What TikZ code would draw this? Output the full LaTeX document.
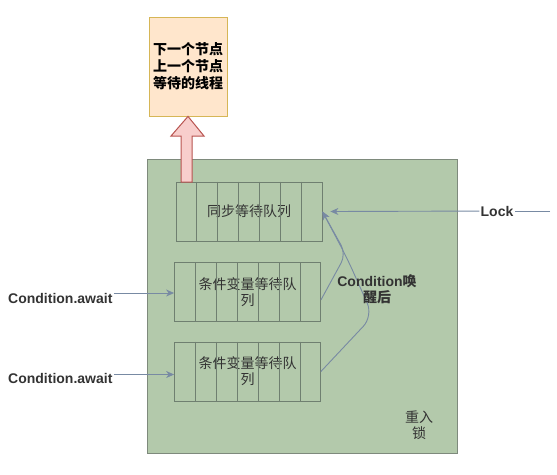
\documentclass[tikz,border=0pt]{standalone}
\usepackage{fontspec}
\setmainfont{Liberation Sans}
\newfontfamily\cjk{Noto Sans CJK SC}
\usetikzlibrary{arrows.meta,positioning,calc}
\definecolor{lockgreen}{HTML}{B3C9AB}
\definecolor{lockedge}{HTML}{7E8A7C}
\definecolor{cellgray}{HTML}{6F7F70}
\definecolor{slate}{HTML}{788AA3}
\definecolor{peach}{HTML}{FFE6CC}
\definecolor{peachedge}{HTML}{D6B656}
\definecolor{rosefill}{HTML}{F8CECC}
\definecolor{roseedge}{HTML}{B85450}
\definecolor{inkgray}{HTML}{333333}

\begin{document}
\begin{tikzpicture}[
    x=1pt, y=-1pt,
    lockbox/.style={draw=lockedge, fill=lockgreen, line width=0.9pt,
                    minimum width=310pt, minimum height=294pt, inner sep=0pt},
    queue/.style={draw=cellgray, line width=0.8pt, minimum width=146pt,
                  minimum height=59pt, inner sep=0pt, align=center,
                  font=\fontsize{14}{16}\selectfont\cjk, text=inkgray},
    info/.style={draw=peachedge, fill=peach, line width=0.8pt,
                 minimum width=78pt, minimum height=99pt, align=center,
                 font=\fontsize{14}{17}\selectfont\cjk\bfseries},
    lbl/.style={font=\fontsize{14}{16}\selectfont\bfseries, text=inkgray,
                inner sep=1pt, align=center},
    arr/.style={-{Stealth[length=8pt,width=7pt,inset=2.5pt]}, slate,
                line width=0.9pt},
    cell/.style={cellgray, line width=0.8pt},
    blockarr/.style={draw=roseedge, fill=rosefill, line width=1pt}
  ]
    \useasboundingbox (0,0) rectangle (557,474);

    % === Reentrant lock ===
    \node[lockbox] (lock) at (302,306) {};
    \node[lbl, font=\fontsize{14}{16}\selectfont\cjk] (locktitle)
      at (419,425) {重入\\锁};

    % === Queues ===
    \node[queue] (syncq) at (249,211.5) {同步等待队列};
    \node[queue] (condq1) at (247.5,292) {条件变量等待队\\列};
    \node[queue] (condq2) at (247.5,371.5) {条件变量等待队\\列};

    \foreach \q in {syncq,condq1,condq2}
      \foreach \i in {1,...,6}
        \draw[cell] ($(\q.north west)!\i/7!(\q.north east)$)
          -- ($(\q.south west)!\i/7!(\q.south east)$);

    % === Node info ===
    \node[info] (nodeinfo) at (188,66.5) {下一个节点\\上一个节点\\等待的线程};
    \draw[blockarr] (181,182) -- (181,136) -- (171,136) -- (nodeinfo.south)
      -- (204,136) -- (192,136) -- (192,182) -- cycle;

    % === Lock ===
    \coordinate (lockin) at (550,211);
    \node[lbl, fill=white] (locklbl) at (497,211) {Lock};
    \draw[slate, line width=0.9pt] (lockin) -- (locklbl);
    \draw[arr] (locklbl) -- ([xshift=8pt]syncq.east);

    % === Condition.await ===
    \node[lbl, anchor=west] (await1) at (7,298) {Condition.await};
    \node[lbl, anchor=west] (await2) at (7,378) {Condition.await};
    \draw[arr] (await1.east |- condq1.west) ++(0,1) -- ([yshift=-1pt]condq1.west);
    \draw[arr] (await2.east |- condq2.west) ++(0,3) -- ([yshift=-3pt]condq2.west);

    % === Wake up ===
    \draw[arr, rounded corners=10pt] ([yshift=-8pt]condq1.east) -- (346,254)
      -- (syncq.east);
    \draw[arr, rounded corners=14pt] (condq2.east) -- (373,316) -- (347,258)
      -- (syncq.east);
    \node[lbl] (wake) at (377,289) {Condition{\cjk 唤}\\{\cjk 醒后}};
  \end{tikzpicture}
\end{document}
